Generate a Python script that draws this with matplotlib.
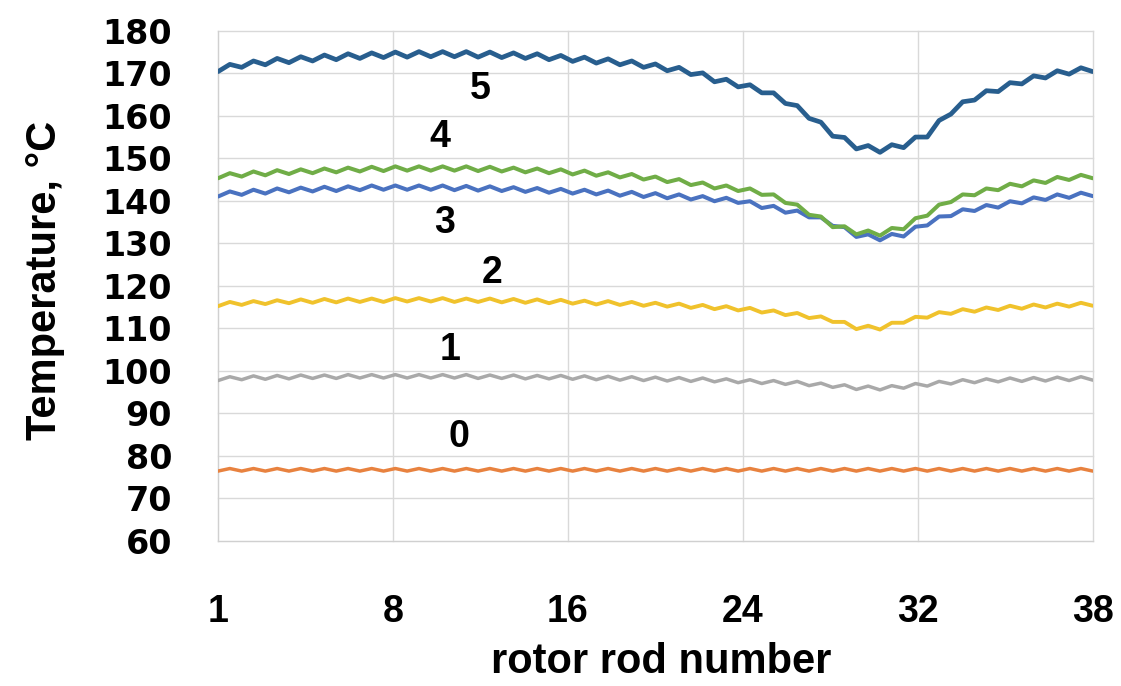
import matplotlib
matplotlib.use('Agg')
import matplotlib.pyplot as plt
import numpy as np

# rod numbers 1..38, temperatures read at each rod and half-way between rods
rods = np.arange(1, 39)
tick_labels = ['1', '8', '16', '24', '32', '38']

T5_rod = [170.4, 171.4, 172.0, 172.5, 172.9, 173.2, 173.5, 173.7, 173.8, 173.9,
          173.9, 173.8, 173.7, 173.5, 173.2, 172.8, 172.4, 172.0, 171.4, 170.6,
          169.7, 168.0, 166.8, 165.4, 162.9, 159.4, 155.2, 152.2, 151.4, 152.5,
          155.0, 160.4, 163.7, 165.7, 167.5, 168.9, 169.8, 170.4]
T5_mid = [172.1, 172.9, 173.5, 173.9, 174.3, 174.6, 174.8, 175.0, 175.1, 175.1,
          175.1, 175.0, 174.8, 174.6, 174.2, 173.8, 173.4, 172.9, 172.2, 171.4,
          170.1, 168.6, 167.3, 165.4, 162.4, 158.5, 154.9, 153.0, 153.2, 155.0,
          158.9, 163.3, 165.9, 167.8, 169.4, 170.6, 171.3]

T4_rod = [145.3, 145.7, 146.0, 146.3, 146.5, 146.7, 146.9, 147.0, 147.1, 147.1,
          147.1, 147.0, 146.9, 146.7, 146.5, 146.2, 145.9, 145.5, 145.0, 144.4,
          143.7, 142.9, 142.3, 141.4, 139.5, 136.7, 133.8, 132.1, 131.8, 133.3,
          136.5, 139.7, 141.3, 142.5, 143.4, 144.2, 144.9, 145.3]
T4_mid = [146.5, 146.9, 147.2, 147.4, 147.6, 147.8, 148.0, 148.1, 148.1, 148.1,
          148.1, 148.0, 147.8, 147.6, 147.4, 147.1, 146.7, 146.3, 145.7, 145.1,
          144.3, 143.6, 142.9, 141.5, 139.1, 136.3, 134.0, 133.0, 133.6, 135.9,
          139.1, 141.5, 142.9, 144.0, 144.8, 145.6, 146.1]

T3_rod = [141.0, 141.4, 141.7, 142.0, 142.2, 142.3, 142.5, 142.6, 142.6, 142.6,
          142.5, 142.4, 142.3, 142.1, 141.9, 141.7, 141.5, 141.2, 140.9, 140.6,
          140.3, 139.9, 139.5, 138.3, 137.2, 136.1, 134.1, 131.5, 130.7, 131.6,
          134.2, 136.4, 137.6, 138.4, 139.4, 140.2, 140.7, 141.1]
T3_mid = [142.2, 142.6, 142.9, 143.1, 143.3, 143.4, 143.6, 143.6, 143.6, 143.6,
          143.5, 143.4, 143.2, 143.0, 142.8, 142.6, 142.4, 142.1, 141.8, 141.5,
          141.1, 140.7, 139.9, 138.8, 137.7, 136.1, 133.8, 132.1, 132.2, 133.9,
          136.3, 138.0, 139.0, 139.9, 140.8, 141.5, 141.9]

T2_rod = [115.2, 115.5, 115.7, 115.9, 116.0, 116.1, 116.2, 116.2, 116.3, 116.3,
          116.2, 116.2, 116.1, 116.0, 115.9, 115.8, 115.6, 115.5, 115.3, 115.1,
          114.8, 114.5, 114.2, 113.7, 113.1, 112.4, 111.5, 109.8, 109.7, 111.3,
          112.5, 113.4, 113.9, 114.3, 114.6, 114.9, 115.1, 115.3]
T2_mid = [116.2, 116.4, 116.6, 116.8, 116.9, 117.0, 117.0, 117.1, 117.1, 117.1,
          117.0, 117.0, 116.9, 116.8, 116.7, 116.5, 116.4, 116.2, 116.0, 115.8,
          115.5, 115.2, 114.8, 114.2, 113.6, 112.8, 111.5, 110.6, 111.3, 112.7,
          113.8, 114.5, 114.9, 115.3, 115.6, 115.8, 116.0]

T1_rod = [97.7, 97.9, 98.0, 98.1, 98.2, 98.2, 98.3, 98.3, 98.3, 98.3,
          98.3, 98.2, 98.2, 98.1, 98.1, 98.0, 97.9, 97.8, 97.7, 97.6,
          97.5, 97.4, 97.2, 97.0, 96.8, 96.5, 96.1, 95.6, 95.5, 95.9,
          96.4, 96.9, 97.2, 97.4, 97.5, 97.6, 97.7, 97.8]
T1_mid = [98.6, 98.8, 98.9, 99.0, 99.0, 99.1, 99.1, 99.1, 99.1, 99.1,
          99.1, 99.0, 99.0, 98.9, 98.9, 98.8, 98.7, 98.6, 98.5, 98.4,
          98.3, 98.1, 97.9, 97.7, 97.5, 97.1, 96.7, 96.4, 96.5, 97.0,
          97.5, 97.9, 98.1, 98.3, 98.4, 98.5, 98.6]

T0_rod = [76.4, 76.4, 76.4, 76.4, 76.4, 76.4, 76.4, 76.4, 76.4, 76.4,
          76.4, 76.4, 76.4, 76.4, 76.4, 76.4, 76.4, 76.4, 76.4, 76.4,
          76.4, 76.4, 76.4, 76.4, 76.4, 76.4, 76.4, 76.4, 76.4, 76.4,
          76.4, 76.4, 76.4, 76.4, 76.4, 76.4, 76.4, 76.4]
T0_mid = [77.0, 77.0, 77.0, 77.0, 77.0, 77.0, 77.0, 77.0, 77.0, 77.0,
          77.0, 77.0, 77.0, 77.0, 77.0, 77.0, 77.0, 77.0, 77.0, 77.0,
          77.0, 77.0, 77.0, 77.0, 77.0, 77.0, 77.0, 77.0, 77.0, 77.0,
          77.0, 77.0, 77.0, 77.0, 77.0, 77.0, 77.0]

curve_names = ['0', '1', '2', '3', '4', '5']
label_x = [11.2, 10.8, 12.6, 10.6, 10.4, 12.1]
label_y = [84.4, 104.9, 123.0, 134.8, 155.0, 166.3]


def weave(a, b):
    out = np.empty(len(a) + len(b))
    out[0::2] = a
    out[1::2] = b
    return out


x = weave(rods, rods[:-1] + 0.5)
series = [(T0_rod, T0_mid, '#E8823F', 2.5),
          (T1_rod, T1_mid, '#A9A9A9', 2.5),
          (T2_rod, T2_mid, '#F0C22C', 2.8),
          (T3_rod, T3_mid, '#4A72C0', 2.9),
          (T4_rod, T4_mid, '#70AD47', 2.9),
          (T5_rod, T5_mid, '#285E8E', 3.4)]

fig = plt.figure(figsize=(11.21, 6.86), dpi=100)
ax = fig.add_axes([0.1945, 0.2117, 0.7803, 0.7434])

for r, m, c, lw in series:
    ax.plot(x, weave(r, m), color=c, lw=lw, solid_joinstyle='round',
            solid_capstyle='round', zorder=3)

for name, lx, ly in zip(curve_names, label_x, label_y):
    ax.text(lx, ly, name, ha='center', va='center', fontsize=27,
            fontweight='bold', family='Liberation Sans', zorder=4)

ax.set_xlim(1, 38)
ax.set_ylim(60, 180)
ax.set_xticks(np.linspace(1, 38, 6))
ax.set_xticklabels(tick_labels, fontsize=27, fontweight='bold', family='Liberation Sans')
ax.set_yticks(np.arange(60, 181, 10))
for t in ax.get_yticklabels():
    t.set_fontsize(24)
    t.set_fontweight('bold')
ax.tick_params(axis='x', length=0, pad=38)
ax.tick_params(axis='y', length=0, pad=33)

ax.grid(color='#D9D9D9', linewidth=1.0, zorder=0)
for gl in ax.get_xgridlines() + ax.get_ygridlines():
    gl.set_clip_on(False)
for s in ['top', 'right']:
    ax.spines[s].set_visible(False)
for s in ['left', 'bottom']:
    ax.spines[s].set_color('#D0D0D0')

ax.set_xlabel('rotor rod number', fontsize=30, fontweight='bold', family='Liberation Sans')
ax.xaxis.set_label_coords(0.507, -0.198)
ax.set_ylabel('Temperature, °C', fontsize=30, fontweight='bold', family='Liberation Sans')
ax.yaxis.set_label_coords(-0.175, 0.51)

plt.savefig('out.png', dpi=100)
